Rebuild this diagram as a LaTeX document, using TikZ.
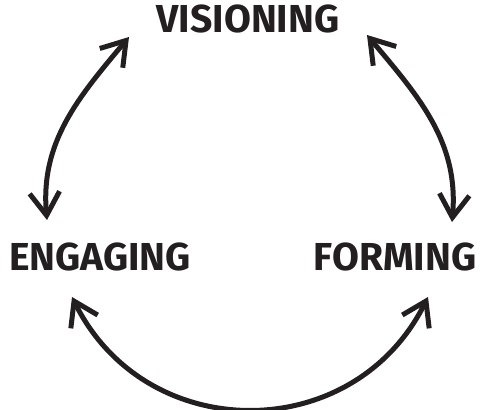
\documentclass[tikz,border=0pt]{standalone}
\usepackage{fontspec}
\setmainfont{Fira Sans}
\usetikzlibrary{arrows.meta}
\definecolor{ink}{HTML}{231F20}

\begin{document}
\begin{tikzpicture}[x=1pt,y=1pt,
    lbl/.style={anchor=base,inner sep=0pt,text=ink,font=\fontsize{39}{44}\selectfont\bfseries},
    cyc/.style={draw=ink,line width=5pt,{Straight Barb[length=23pt,width=30pt]}-{Straight Barb[length=23pt,width=30pt]}}]
    \useasboundingbox (0,0) rectangle (481,409);
    \node[lbl] (vis) at (248,376) {VISIONING};
    \node[lbl] (eng) at (100,138) {ENGAGING};
    \node[lbl] (form) at (395,138) {FORMING};
    \coordinate (vis-l) at (129,372);
    \coordinate (vis-r) at (367,374);
    \coordinate (eng-t) at (47,189);
    \coordinate (eng-b) at (72,112);
    \coordinate (form-t) at (452,187);
    \coordinate (form-b) at (428,112);
    \draw[cyc] (eng-t) to[out=95,in=-130] (vis-l);
    \draw[cyc] (form-t) to[out=85,in=-50] (vis-r);
    \draw[cyc] (eng-b) to[out=-63.6,in=-116.4,looseness=1.2] (form-b);
  \end{tikzpicture}
\end{document}
